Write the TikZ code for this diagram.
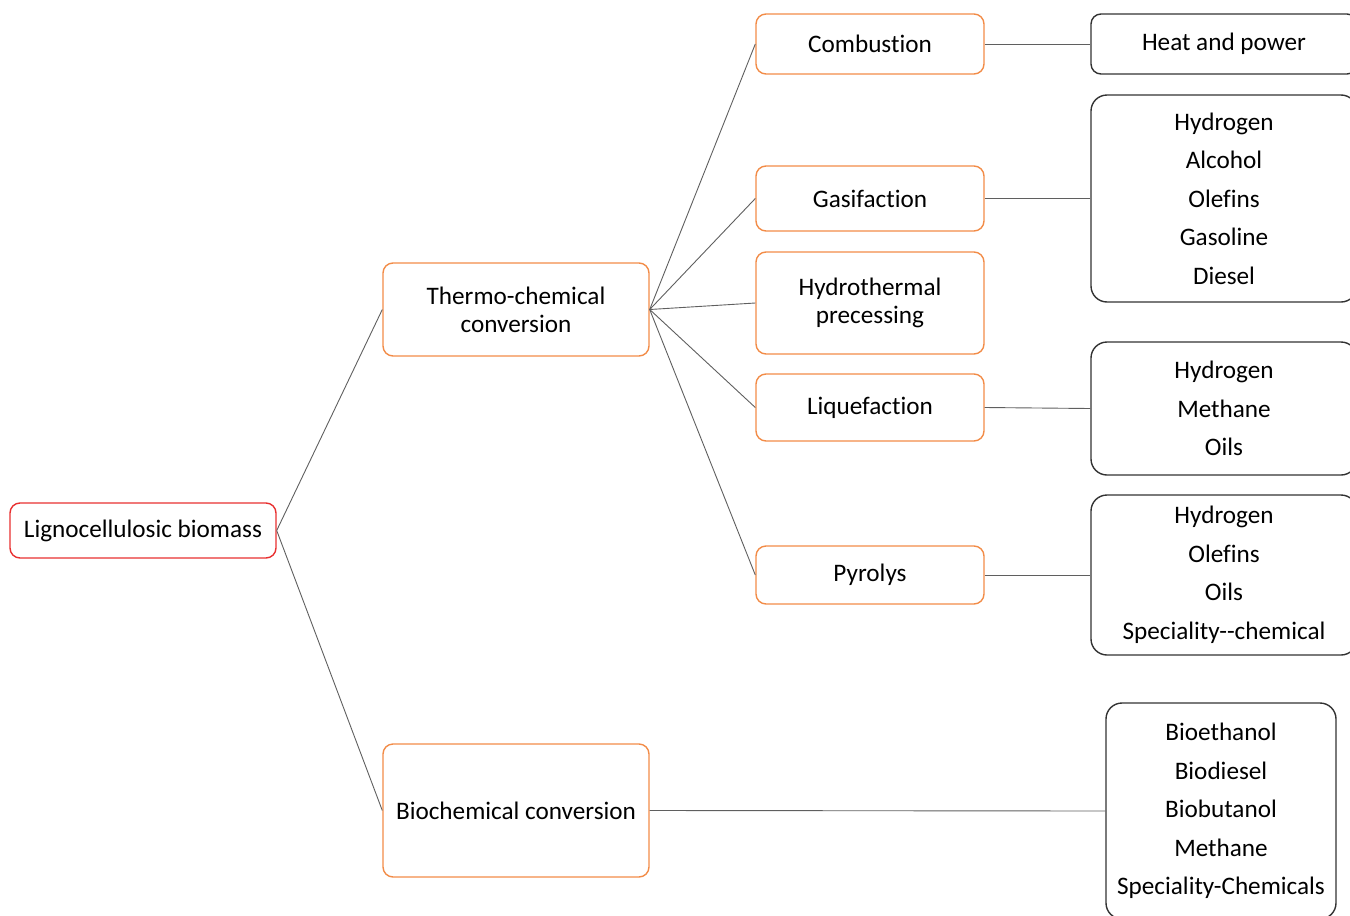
\documentclass[tikz,border=0pt]{standalone}
\usepackage{fontspec}
\setmainfont{Carlito}[Ligatures={NoCommon}]

\definecolor{procorange}{RGB}{242,140,72}
\definecolor{rootred}{RGB}{232,48,48}
\definecolor{linkgray}{RGB}{95,95,95}
\definecolor{prodgray}{RGB}{50,50,50}

\tikzset{
  procbox/.style={draw=procorange, line width=0.7pt, rounded corners=5pt, inner sep=0pt,
    align=center, font=\fontsize{12.6}{14}\selectfont},
  rootbox/.style={procbox, draw=rootred},
  prodbox/.style={draw=prodgray, line width=0.7pt, rounded corners=8pt, inner sep=0pt,
    align=center, font=\fontsize{12.6}{19.25}\selectfont},
  link/.style={draw=linkgray, line width=0.45pt}
}

\begin{document}
\begin{tikzpicture}[x=0.5pt,y=-0.5pt]
  \useasboundingbox (0,0) rectangle (1350,916);

  % source and conversion routes
  \node[rootbox, minimum width=133pt, minimum height=27.5pt] (ligno) at (143,530.5) {Lignocellulosic biomass};
  \node[procbox, minimum width=133pt, minimum height=46.5pt] (thermo) at (516,309.5) {Thermo-chemical\\conversion};
  \node[procbox, minimum width=133pt, minimum height=66.5pt] (bio) at (516,810.5) {Biochemical conversion};

  % thermo-chemical processes
  \node[procbox, minimum width=114pt, minimum height=30pt] (comb) at (870,44) {Combustion};
  \node[procbox, minimum width=114pt, minimum height=32.5pt] (gasif) at (870,198.5) {Gasifaction};
  \node[procbox, minimum width=114pt, minimum height=51pt] (hydro) at (870,303) {Hydrothermal\\precessing};
  \node[procbox, minimum width=114pt, minimum height=33.5pt] (liquef) at (870,407.5) {Liquefaction};
  \node[procbox, minimum width=114pt, minimum height=29pt] (pyro) at (870,575) {Pyrolys};

  % products
  \node[prodbox, rounded corners=5pt, minimum width=133pt, minimum height=30pt] (heat) at (1224,44) {Heat and power};
  \node[prodbox, minimum width=133pt, minimum height=103.5pt] (gasprod) at (1224,198.5)
    {Hydrogen\\Alcohol\\Olefins\\Gasoline\\Diesel};
  \node[prodbox, minimum width=133pt, minimum height=66.5pt] (liqprod) at (1224,408.5)
    {Hydrogen\\Methane\\Oils};
  \node[prodbox, minimum width=133pt, minimum height=80pt] (pyroprod) at (1224,575)
    {Hydrogen\\Olefins\\Oils\\Speciality{-}{-}chemical};
  \node[prodbox, minimum width=115pt, minimum height=108pt] (bioprod) at (1221,811)
    {Bioethanol\\Biodiesel\\Biobutanol\\Methane\\Speciality-Chemicals};

  % connectors
  \draw[link] (ligno.east) -- (thermo.west);
  \draw[link] (ligno.east) -- (bio.west);
  \draw[link] (thermo.east) -- (comb.west);
  \draw[link] (thermo.east) -- (gasif.west);
  \draw[link] (thermo.east) -- (hydro.west);
  \draw[link] (thermo.east) -- (liquef.west);
  \draw[link] (thermo.east) -- (pyro.west);
  \draw[link] (comb.east) -- (heat.west);
  \draw[link] (gasif.east) -- (gasprod.west);
  \draw[link] (liquef.east) -- (liqprod.west);
  \draw[link] (pyro.east) -- (pyroprod.west);
  \draw[link] (bio.east) -- (bioprod.west);
\end{tikzpicture}
\end{document}
